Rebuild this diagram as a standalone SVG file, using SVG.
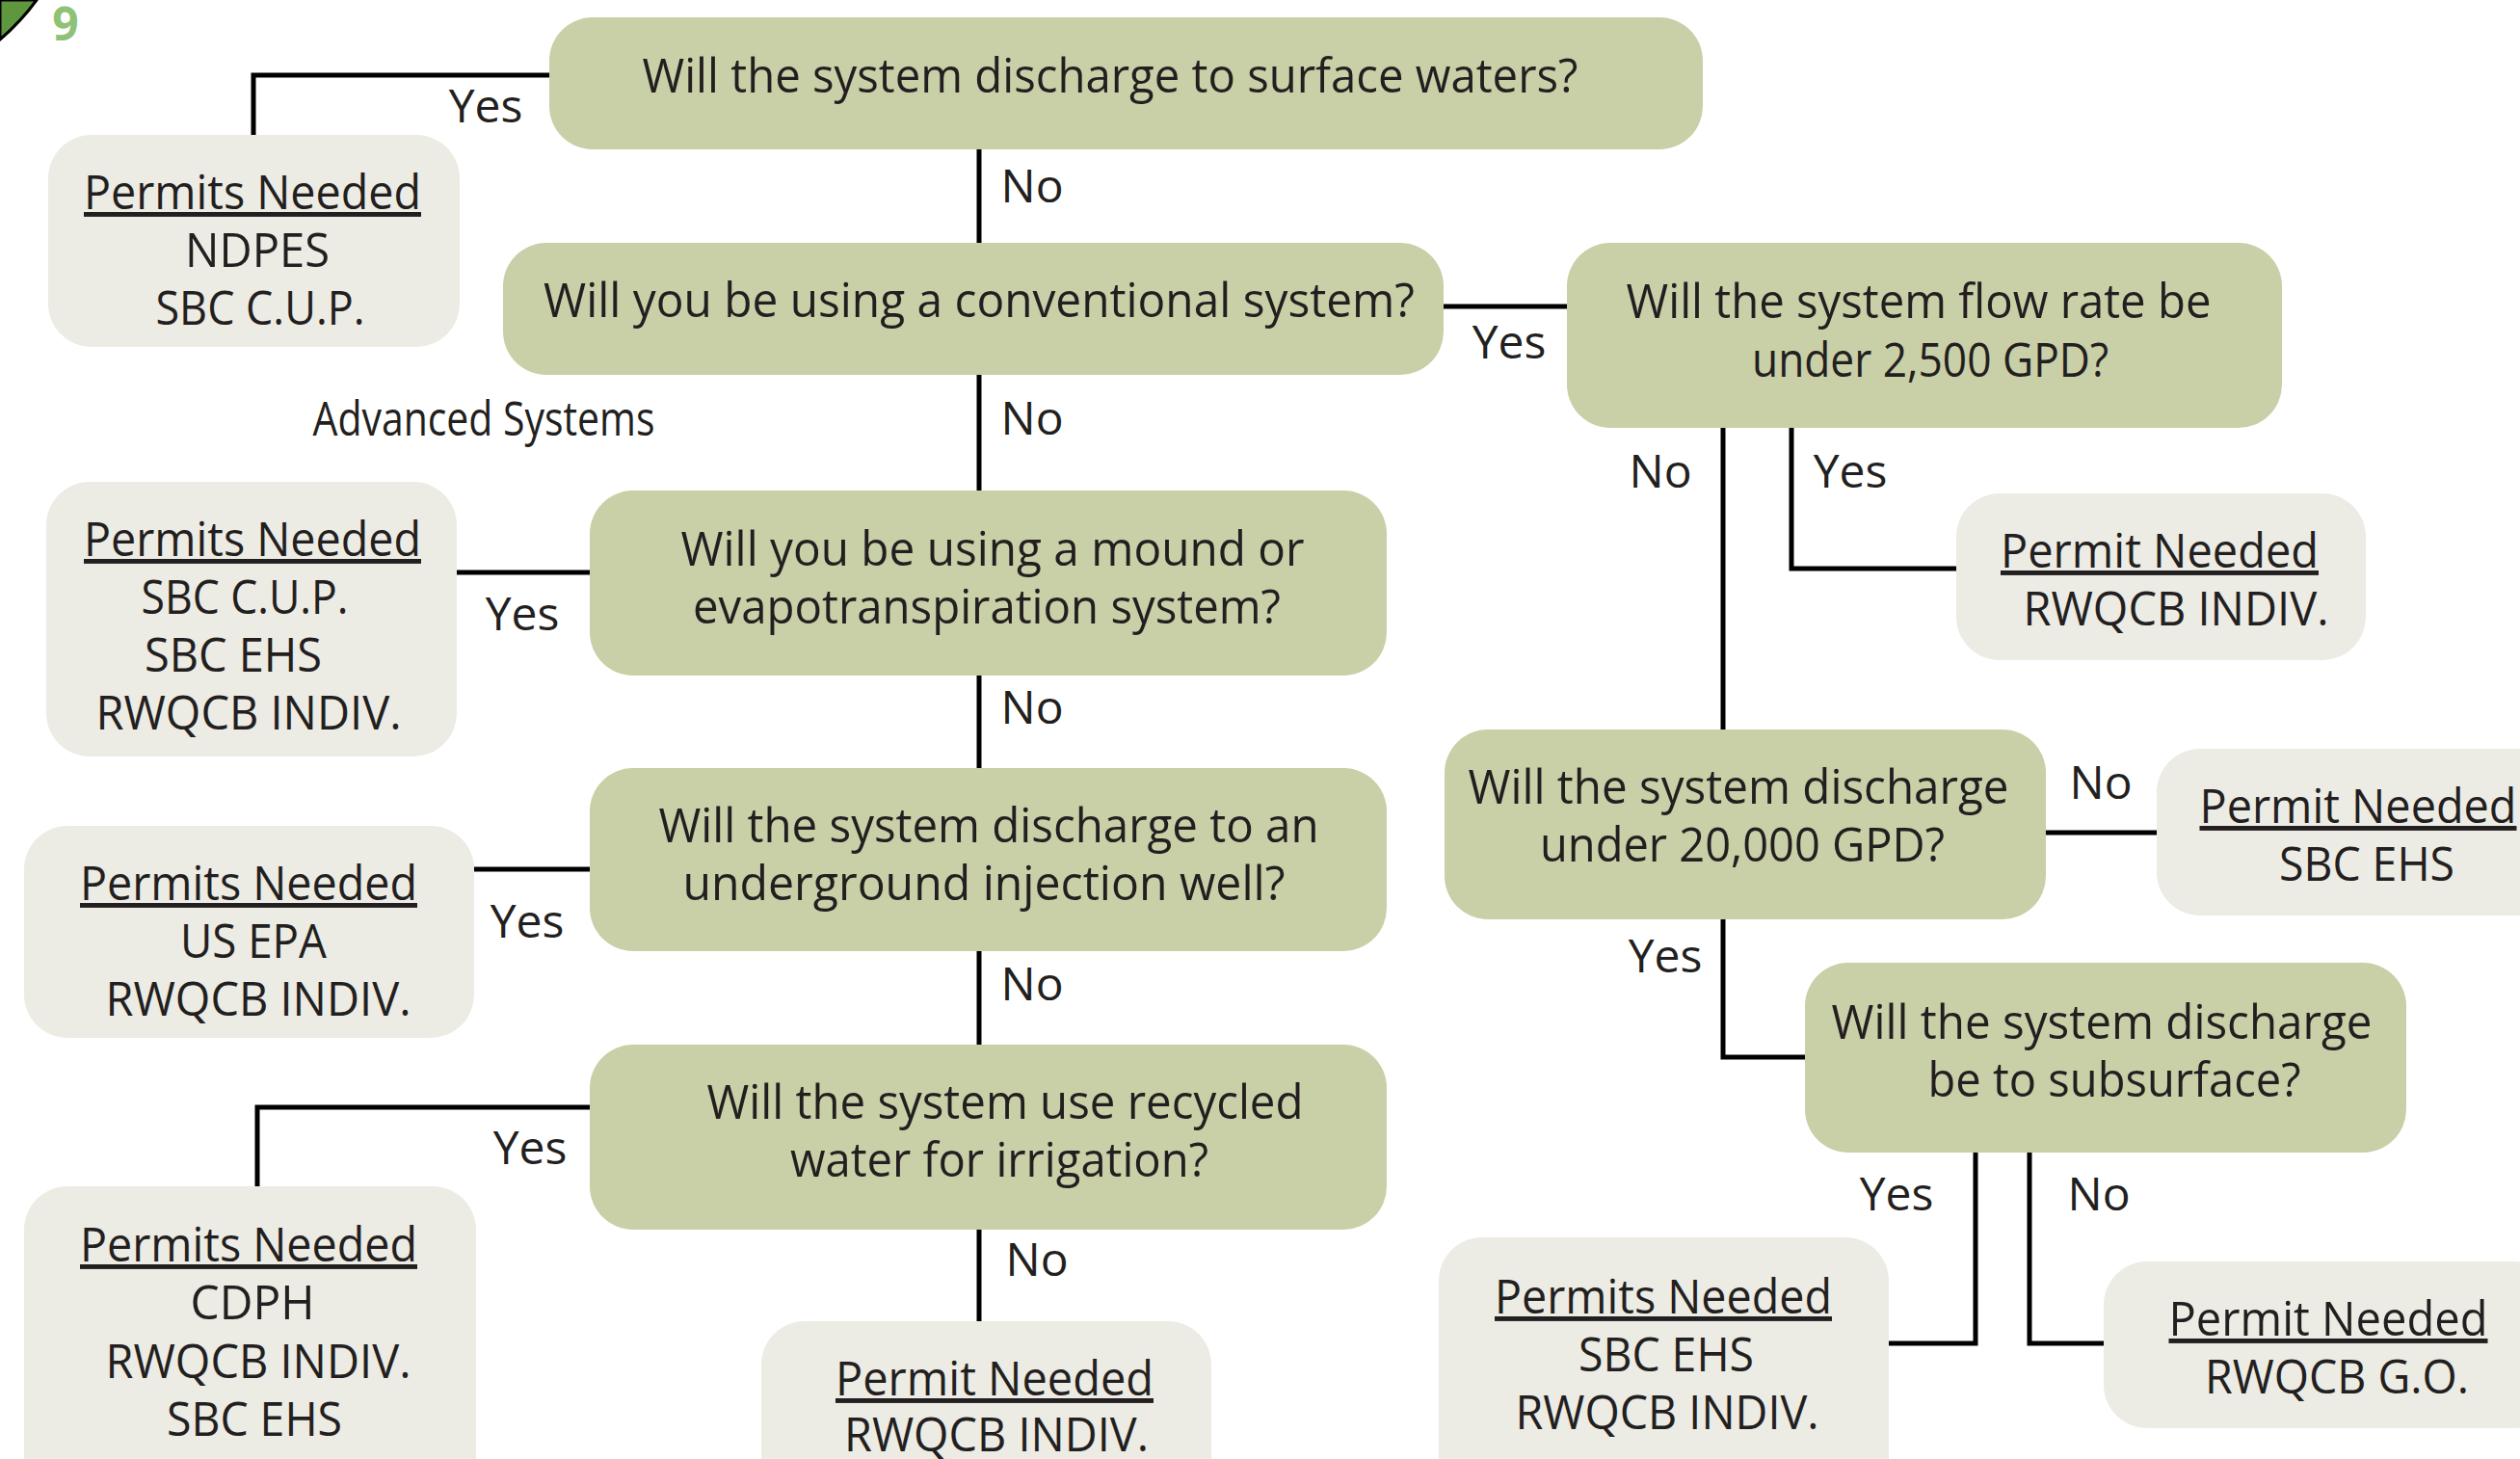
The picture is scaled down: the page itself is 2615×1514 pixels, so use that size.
<svg xmlns="http://www.w3.org/2000/svg" width="2615" height="1514" viewBox="0 0 2615 1514">
<style>
.q{fill:#c9cfa6}
.p{fill:#ecebe4}
text{font-family:"Open Sans","Liberation Sans",sans-serif;font-size:49px;fill:#231f20;text-anchor:middle}
.u{text-decoration:underline}
.c{fill:none;stroke:#000;stroke-width:5}
.lbl{font-size:48px}
</style>
<rect width="2615" height="1514" fill="#fff"/>
<path d="M0,0 L38,0 Q22,22 0,41 Z" fill="#5f973f" stroke="#000" stroke-width="3"/>
<text x="68" y="42" style="font-size:48px;font-weight:bold;fill:#8fc176">9</text>
<g id="connectors">
<path class="c" d="M570,78 H263 V140"/>
<path class="c" d="M1016,155 V252"/>
<path class="c" d="M1498,318 H1626"/>
<path class="c" d="M1016,389 V509"/>
<path class="c" d="M612,594 H474"/>
<path class="c" d="M1016,701 V797"/>
<path class="c" d="M612,902 H492"/>
<path class="c" d="M1016,987 V1084"/>
<path class="c" d="M612,1149 H267 V1231"/>
<path class="c" d="M1016,1276 V1371"/>
<path class="c" d="M1859,444 V590 H2030"/>
<path class="c" d="M1788,444 V757"/>
<path class="c" d="M2123,864 H2238"/>
<path class="c" d="M1788,954 V1097 H1873"/>
<path class="c" d="M2050,1196 V1394 H1960"/>
<path class="c" d="M2106,1196 V1394 H2183"/>
<text class="lbl" x="504" y="127">Yes</text>
<text class="lbl" x="1071" y="210">No</text>
<text class="lbl" x="1566" y="372">Yes</text>
<text class="lbl" x="1071" y="451">No</text>
<text class="lbl" x="542" y="654">Yes</text>
<text class="lbl" x="1071" y="751">No</text>
<text class="lbl" x="547" y="973">Yes</text>
<text class="lbl" x="1071" y="1038">No</text>
<text class="lbl" x="550" y="1208">Yes</text>
<text class="lbl" x="1076" y="1324">No</text>
<text class="lbl" x="1920" y="506">Yes</text>
<text class="lbl" x="1723" y="506">No</text>
<text class="lbl" x="2180" y="829">No</text>
<text class="lbl" x="1728" y="1009">Yes</text>
<text class="lbl" x="1968" y="1256">Yes</text>
<text class="lbl" x="2178" y="1256">No</text>
</g>
<text x="502" y="452" textLength="355" lengthAdjust="spacingAndGlyphs">Advanced Systems</text>
<g id="q1"><rect class="q" x="570" y="18" width="1197" height="137" rx="45"/>
<text x="1152" y="96" textLength="971" lengthAdjust="spacingAndGlyphs">Will the system discharge to surface waters?</text></g>
<g id="p1"><rect class="p" x="50" y="140" width="427" height="220" rx="45"/>
<text class="u" x="262" y="217" textLength="350" lengthAdjust="spacingAndGlyphs">Permits Needed</text>
<text x="267" y="277" textLength="150" lengthAdjust="spacingAndGlyphs">NDPES</text>
<text x="270" y="337" textLength="217" lengthAdjust="spacingAndGlyphs">SBC C.U.P.</text></g>
<g id="q2"><rect class="q" x="522" y="252" width="976" height="137" rx="45"/>
<text x="1016" y="329" textLength="904" lengthAdjust="spacingAndGlyphs">Will you be using a conventional system?</text></g>
<g id="q3"><rect class="q" x="1626" y="252" width="742" height="192" rx="45"/>
<text x="1991" y="330" textLength="607" lengthAdjust="spacingAndGlyphs">Will the system flow rate be</text>
<text x="2003" y="391" textLength="370" lengthAdjust="spacingAndGlyphs">under 2,500 GPD?</text></g>
<g id="q4"><rect class="q" x="612" y="509" width="827" height="192" rx="45"/>
<text x="1030" y="587" textLength="647" lengthAdjust="spacingAndGlyphs">Will you be using a mound or</text>
<text x="1024" y="647" textLength="610" lengthAdjust="spacingAndGlyphs">evapotranspiration system?</text></g>
<g id="p2"><rect class="p" x="48" y="500" width="426" height="285" rx="45"/>
<text class="u" x="262" y="577" textLength="350" lengthAdjust="spacingAndGlyphs">Permits Needed</text>
<text x="254" y="637" textLength="215" lengthAdjust="spacingAndGlyphs">SBC C.U.P.</text>
<text x="242" y="697" textLength="184" lengthAdjust="spacingAndGlyphs">SBC EHS</text>
<text x="258" y="757" textLength="317" lengthAdjust="spacingAndGlyphs">RWQCB INDIV.</text></g>
<g id="q5"><rect class="q" x="612" y="797" width="827" height="190" rx="45"/>
<text x="1026" y="874" textLength="685" lengthAdjust="spacingAndGlyphs">Will the system discharge to an</text>
<text x="1021" y="934" textLength="625" lengthAdjust="spacingAndGlyphs">underground injection well?</text></g>
<g id="p3"><rect class="p" x="25" y="857" width="467" height="220" rx="45"/>
<text class="u" x="258" y="934" textLength="350" lengthAdjust="spacingAndGlyphs">Permits Needed</text>
<text x="263" y="994" textLength="152" lengthAdjust="spacingAndGlyphs">US EPA</text>
<text x="268" y="1054" textLength="317" lengthAdjust="spacingAndGlyphs">RWQCB INDIV.</text></g>
<g id="q6"><rect class="q" x="612" y="1084" width="827" height="192" rx="45"/>
<text x="1043" y="1161" textLength="619" lengthAdjust="spacingAndGlyphs">Will the system use recycled</text>
<text x="1037" y="1221" textLength="434" lengthAdjust="spacingAndGlyphs">water for irrigation?</text></g>
<g id="p4"><rect class="p" x="25" y="1231" width="469" height="330" rx="45"/>
<text class="u" x="258" y="1309" textLength="350" lengthAdjust="spacingAndGlyphs">Permits Needed</text>
<text x="262" y="1369" textLength="129" lengthAdjust="spacingAndGlyphs">CDPH</text>
<text x="268" y="1430" textLength="317" lengthAdjust="spacingAndGlyphs">RWQCB INDIV.</text>
<text x="264" y="1490" textLength="182" lengthAdjust="spacingAndGlyphs">SBC EHS</text></g>
<g id="p5"><rect class="p" x="790" y="1371" width="467" height="220" rx="45"/>
<text class="u" x="1032" y="1448" textLength="330" lengthAdjust="spacingAndGlyphs">Permit Needed</text>
<text x="1034" y="1506" textLength="316" lengthAdjust="spacingAndGlyphs">RWQCB INDIV.</text></g>
<g id="p6"><rect class="p" x="2030" y="512" width="425" height="173" rx="45"/>
<text class="u" x="2241" y="589" textLength="330" lengthAdjust="spacingAndGlyphs">Permit Needed</text>
<text x="2258" y="649" textLength="317" lengthAdjust="spacingAndGlyphs">RWQCB INDIV.</text></g>
<g id="q7"><rect class="q" x="1499" y="757" width="624" height="197" rx="45"/>
<text x="1804" y="834" textLength="561" lengthAdjust="spacingAndGlyphs">Will the system discharge</text>
<text x="1808" y="894" textLength="420" lengthAdjust="spacingAndGlyphs">under 20,000 GPD?</text></g>
<g id="p7"><rect class="p" x="2238" y="777" width="420" height="173" rx="45"/>
<text class="u" x="2447" y="854" textLength="329" lengthAdjust="spacingAndGlyphs">Permit Needed</text>
<text x="2456" y="914" textLength="182" lengthAdjust="spacingAndGlyphs">SBC EHS</text></g>
<g id="q8"><rect class="q" x="1873" y="999" width="624" height="197" rx="45"/>
<text x="2181" y="1078" textLength="561" lengthAdjust="spacingAndGlyphs">Will the system discharge</text>
<text x="2194" y="1138" textLength="387" lengthAdjust="spacingAndGlyphs">be to subsurface?</text></g>
<g id="p8"><rect class="p" x="1493" y="1284" width="467" height="280" rx="45"/>
<text class="u" x="1726" y="1363" textLength="350" lengthAdjust="spacingAndGlyphs">Permits Needed</text>
<text x="1729" y="1423" textLength="182" lengthAdjust="spacingAndGlyphs">SBC EHS</text>
<text x="1730" y="1483" textLength="315" lengthAdjust="spacingAndGlyphs">RWQCB INDIV.</text></g>
<g id="p9"><rect class="p" x="2183" y="1309" width="470" height="173" rx="45"/>
<text class="u" x="2416" y="1386" textLength="331" lengthAdjust="spacingAndGlyphs">Permit Needed</text>
<text x="2425" y="1446" textLength="274" lengthAdjust="spacingAndGlyphs">RWQCB G.O.</text></g>
</svg>
